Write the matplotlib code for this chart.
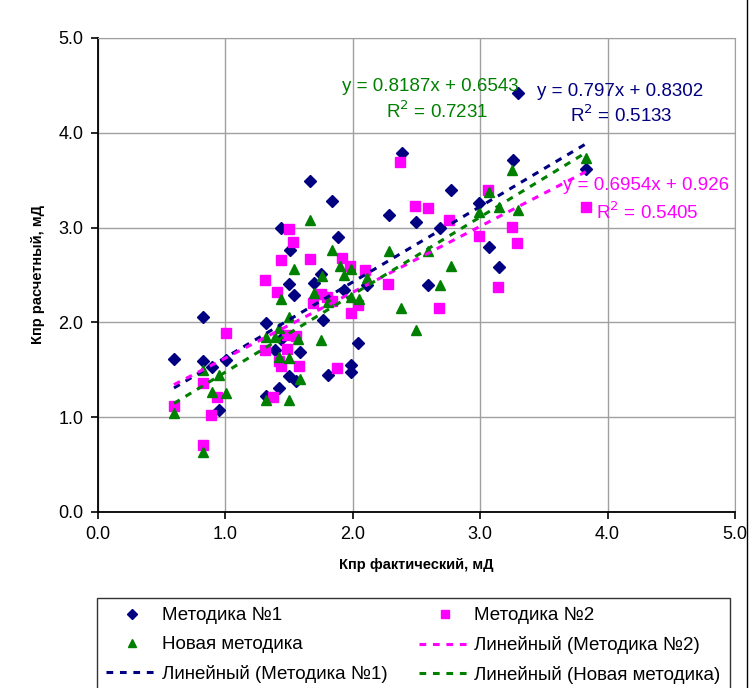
import matplotlib
matplotlib.use("Agg")
import matplotlib.pyplot as plt
from matplotlib.lines import Line2D
import numpy as np

plt.rcParams['font.family'] = ['Liberation Sans', 'DejaVu Sans']

# Методика №1
m1_x = [0.60, 0.83, 0.83, 0.90, 1.01, 0.95, 1.32, 1.50, 1.54, 1.70, 1.39, 1.44, 1.59, 1.50,
        1.42, 1.32, 1.56, 1.81, 1.77, 1.67, 1.84, 2.29, 1.44, 1.89, 1.51, 1.75, 1.93, 2.11,
        2.04, 1.99, 1.99, 2.59, 2.39, 3.26, 2.77, 2.99, 2.50, 2.69, 3.83, 3.07, 3.15, 3.30]
m1_y = [1.61, 2.06, 1.59, 1.53, 1.60, 1.08, 1.99, 2.41, 2.29, 2.42, 1.71, 1.82, 1.69, 1.43,
        1.31, 1.22, 1.38, 1.45, 2.03, 3.49, 3.28, 3.13, 3.00, 2.90, 2.76, 2.51, 2.34, 2.39,
        1.78, 1.55, 1.48, 2.39, 3.79, 3.71, 3.40, 3.26, 3.06, 3.00, 3.62, 2.80, 2.58, 4.42]

# Методика №2
m2_x = [1.01, 0.83, 0.60, 0.89, 0.94, 0.83, 1.31, 1.49, 1.49, 1.56, 1.42, 1.44, 1.58, 1.38,
        1.31, 1.41, 1.75, 1.69, 1.80, 1.84, 1.88, 1.50, 1.53, 1.44, 1.67, 1.92, 1.98, 2.10,
        2.28, 2.37, 1.99, 2.04, 2.68, 3.14, 3.06, 2.49, 2.59, 2.76, 2.99, 3.25, 3.29, 3.83]
m2_y = [1.89, 1.36, 1.12, 1.02, 1.21, 0.71, 1.71, 1.72, 1.87, 1.86, 1.59, 1.54, 1.54, 1.21,
        2.45, 2.32, 2.30, 2.20, 2.27, 2.23, 1.52, 2.98, 2.85, 2.66, 2.67, 2.68, 2.60, 2.55,
        2.40, 3.69, 2.10, 2.18, 2.15, 2.37, 3.40, 3.23, 3.21, 3.08, 2.91, 3.01, 2.84, 3.22]

# Новая методика
m3_x = [0.60, 0.83, 0.83, 0.95, 0.90, 1.01, 1.32, 1.50, 1.59, 1.42, 1.50, 1.32, 1.39, 1.57,
        1.42, 1.50, 1.75, 1.44, 1.70, 1.81, 1.67, 1.84, 1.54, 1.90, 1.93, 1.99, 1.76, 2.11,
        2.29, 1.99, 2.05, 2.38, 2.50, 2.69, 3.25, 3.07, 3.83, 3.15, 2.99, 3.30, 2.59, 2.77]
m3_y = [1.04, 0.63, 1.50, 1.44, 1.27, 1.26, 1.18, 1.18, 1.40, 1.64, 1.62, 1.85, 1.85, 1.82,
        1.94, 2.06, 1.81, 2.25, 2.31, 2.22, 3.08, 2.76, 2.56, 2.59, 2.50, 2.56, 2.49, 2.47,
        2.75, 2.27, 2.25, 2.15, 1.92, 2.39, 3.61, 3.38, 3.73, 3.22, 3.16, 3.19, 2.75, 2.60]

# trend line coefficients as printed on the chart
trend_m1 = (0.797, 0.8302, 0.5133)
trend_m2 = (0.6954, 0.926, 0.5405)
trend_m3 = (0.8187, 0.6543, 0.7231)

ticks = [0.0, 1.0, 2.0, 3.0, 4.0, 5.0]
tick_labels = ['0.0', '1.0', '2.0', '3.0', '4.0', '5.0']

navy = '#000080'
pink = '#FF00FF'
green = '#008000'

fig = plt.figure(figsize=(7.5, 6.88), dpi=100)
ax = fig.add_axes([97.5 / 750, 1 - 512 / 688, (735 - 97.5) / 750, (512 - 38) / 688])

ax.set_xlim(0, 5)
ax.set_ylim(0, 5)
ax.set_xticks(ticks)
ax.set_yticks(ticks)
ax.set_xticklabels(tick_labels, fontsize=13)
ax.set_yticklabels(tick_labels, fontsize=13)
ax.grid(True, color='#A0A0A0', linewidth=1)
ax.set_axisbelow(True)
for side in ['top', 'right']:
    ax.spines[side].set_color('#A0A0A0')
for side in ['left', 'bottom']:
    ax.spines[side].set_color('black')
    ax.spines[side].set_linewidth(1.3)
ax.tick_params(direction='out', length=5, width=1.2, pad=5)

ax.plot(m1_x, m1_y, 'D', color=navy, markersize=6.3, linestyle='none', zorder=3)
ax.plot(m2_x, m2_y, 's', color=pink, markersize=6.5, linestyle='none', zorder=3)
ax.plot(m3_x, m3_y, '^', color=green, markersize=7.5, linestyle='none', zorder=3)

dash = (0, (2.2, 2.2))
for xs, (k, b, r2), col in [(m1_x, trend_m1, navy), (m2_x, trend_m2, pink), (m3_x, trend_m3, green)]:
    xx = np.array([min(xs), max(xs)])
    ax.plot(xx, k * xx + b, color=col, linestyle=dash, linewidth=2.2, zorder=4)

# equation labels
fs = 13.5
ax.text(2.61, 4.49, 'y = 0.8187x + 0.6543', color=green, fontsize=fs, ha='center', va='center')
ax.text(2.66, 4.23, 'R$^2$ = 0.7231', color=green, fontsize=fs, ha='center', va='center')
ax.text(4.10, 4.44, 'y = 0.797x + 0.8302', color=navy, fontsize=fs, ha='center', va='center')
ax.text(4.11, 4.18, 'R$^2$ = 0.5133', color=navy, fontsize=fs, ha='center', va='center')
ax.text(4.30, 3.44, 'y = 0.6954x + 0.926', color=pink, fontsize=fs, ha='center', va='center', clip_on=False)
ax.text(4.31, 3.16, 'R$^2$ = 0.5405', color=pink, fontsize=fs, ha='center', va='center')

ax.set_xlabel('Кпр фактический, мД', fontsize=10.5, fontweight='bold', labelpad=11)
ax.set_ylabel('Кпр расчетный, мД', fontsize=10.5, fontweight='bold', labelpad=10)

handles = [
    Line2D([], [], marker='D', color=navy, linestyle='none', markersize=5),
    Line2D([], [], marker='^', color=green, linestyle='none', markersize=6),
    Line2D([], [], color=navy, linestyle=dash, linewidth=2.2),
    Line2D([], [], marker='s', color=pink, linestyle='none', markersize=5.5),
    Line2D([], [], color=pink, linestyle=dash, linewidth=2.2),
    Line2D([], [], color=green, linestyle=dash, linewidth=2.2),
]
labels = ['Методика №1', 'Новая методика', 'Линейный (Методика №1)',
          'Методика №2', 'Линейный (Методика №2)', 'Линейный (Новая методика)']
leg = fig.legend(handles, labels, loc='upper left', ncol=2, fontsize=13.5,
                 bbox_to_anchor=(97 / 750, 1 - 598 / 688),
                 frameon=True, fancybox=False, edgecolor='black',
                 handlelength=2.7, labelspacing=0.62, borderpad=0.5, handletextpad=0.25,
                 columnspacing=1.7, borderaxespad=0)
leg.get_frame().set_linewidth(1)

fig.add_artist(Line2D([747 / 750, 747 / 750], [0, 1], color='black', linewidth=1))

fig.savefig('out.png', dpi=100)
